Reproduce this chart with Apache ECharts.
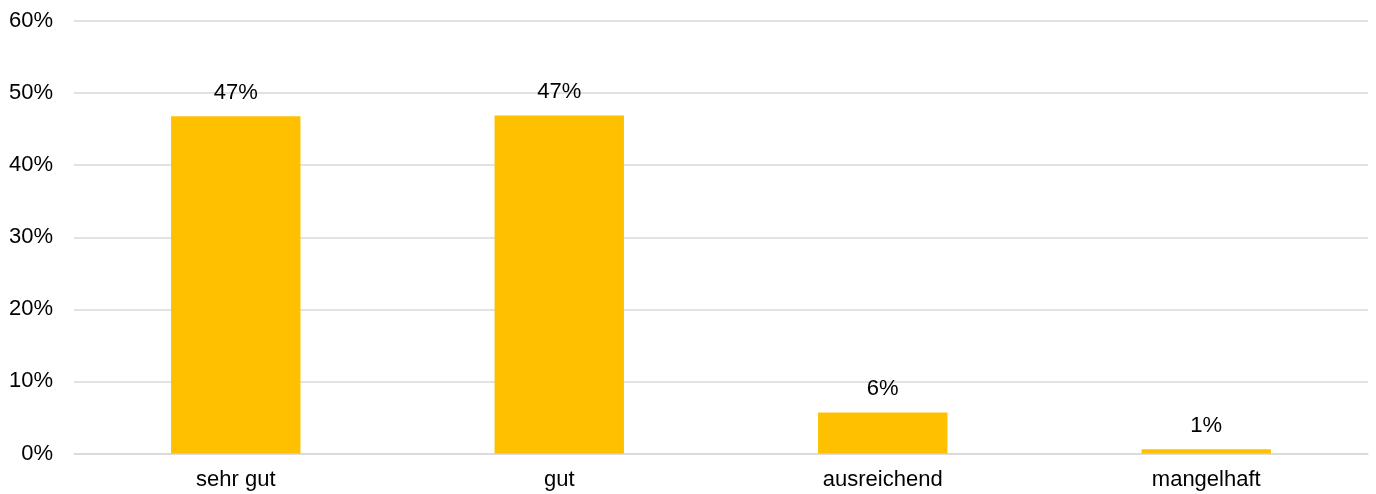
<!DOCTYPE html>
<html>
<head>
<meta charset="utf-8">
<script src="https://cdn.jsdelivr.net/npm/echarts@6/dist/echarts.min.js"></script>
<style>
  html, body { margin: 0; padding: 0; background: #ffffff; }
  #chart { width: 1376px; height: 494px; }
</style>
</head>
<body>
<div id="chart"></div>
<script>
// Rating categories and their share of responses (percent)
const categories = ['sehr gut', 'gut', 'ausreichend', 'mangelhaft'];
const shares = [46.8, 46.9, 5.7, 0.6];

// Value axis range and step (percent)
const axisMin = 0;
const axisMax = 60;
const axisStep = 10;

const fontFamily = '"Liberation Sans", Arial, sans-serif';
const fontSize = 22;

const chart = echarts.init(document.getElementById('chart'), null, { renderer: 'canvas' });

chart.setOption({
  animation: false,
  backgroundColor: '#ffffff',
  grid: { left: 74, right: 8, top: 21, bottom: 40.5, containLabel: false },
  xAxis: {
    type: 'category',
    data: categories,
    axisLine: { show: true, lineStyle: { color: '#d9d9d9', width: 1.5 } },
    axisTick: { show: false },
    axisLabel: { color: '#000000', fontSize: fontSize, fontFamily: fontFamily, margin: 15 }
  },
  yAxis: {
    type: 'value',
    min: axisMin,
    max: axisMax,
    interval: axisStep,
    axisLine: { show: false },
    axisTick: { show: false },
    splitLine: { show: true, lineStyle: { color: '#d9d9d9', width: 1.5 } },
    axisLabel: {
      color: '#000000', fontSize: fontSize, fontFamily: fontFamily, margin: 21,
      formatter: v => v + '%'
    }
  },
  series: [{
    type: 'bar',
    data: shares,
    barWidth: '40%',
    itemStyle: { color: '#FFC000' },
    label: {
      show: true,
      position: 'top',
      distance: 12,
      color: '#000000',
      fontSize: fontSize,
      fontFamily: fontFamily,
      formatter: p => Math.round(p.value) + '%'
    }
  }]
});
</script>
</body>
</html>
